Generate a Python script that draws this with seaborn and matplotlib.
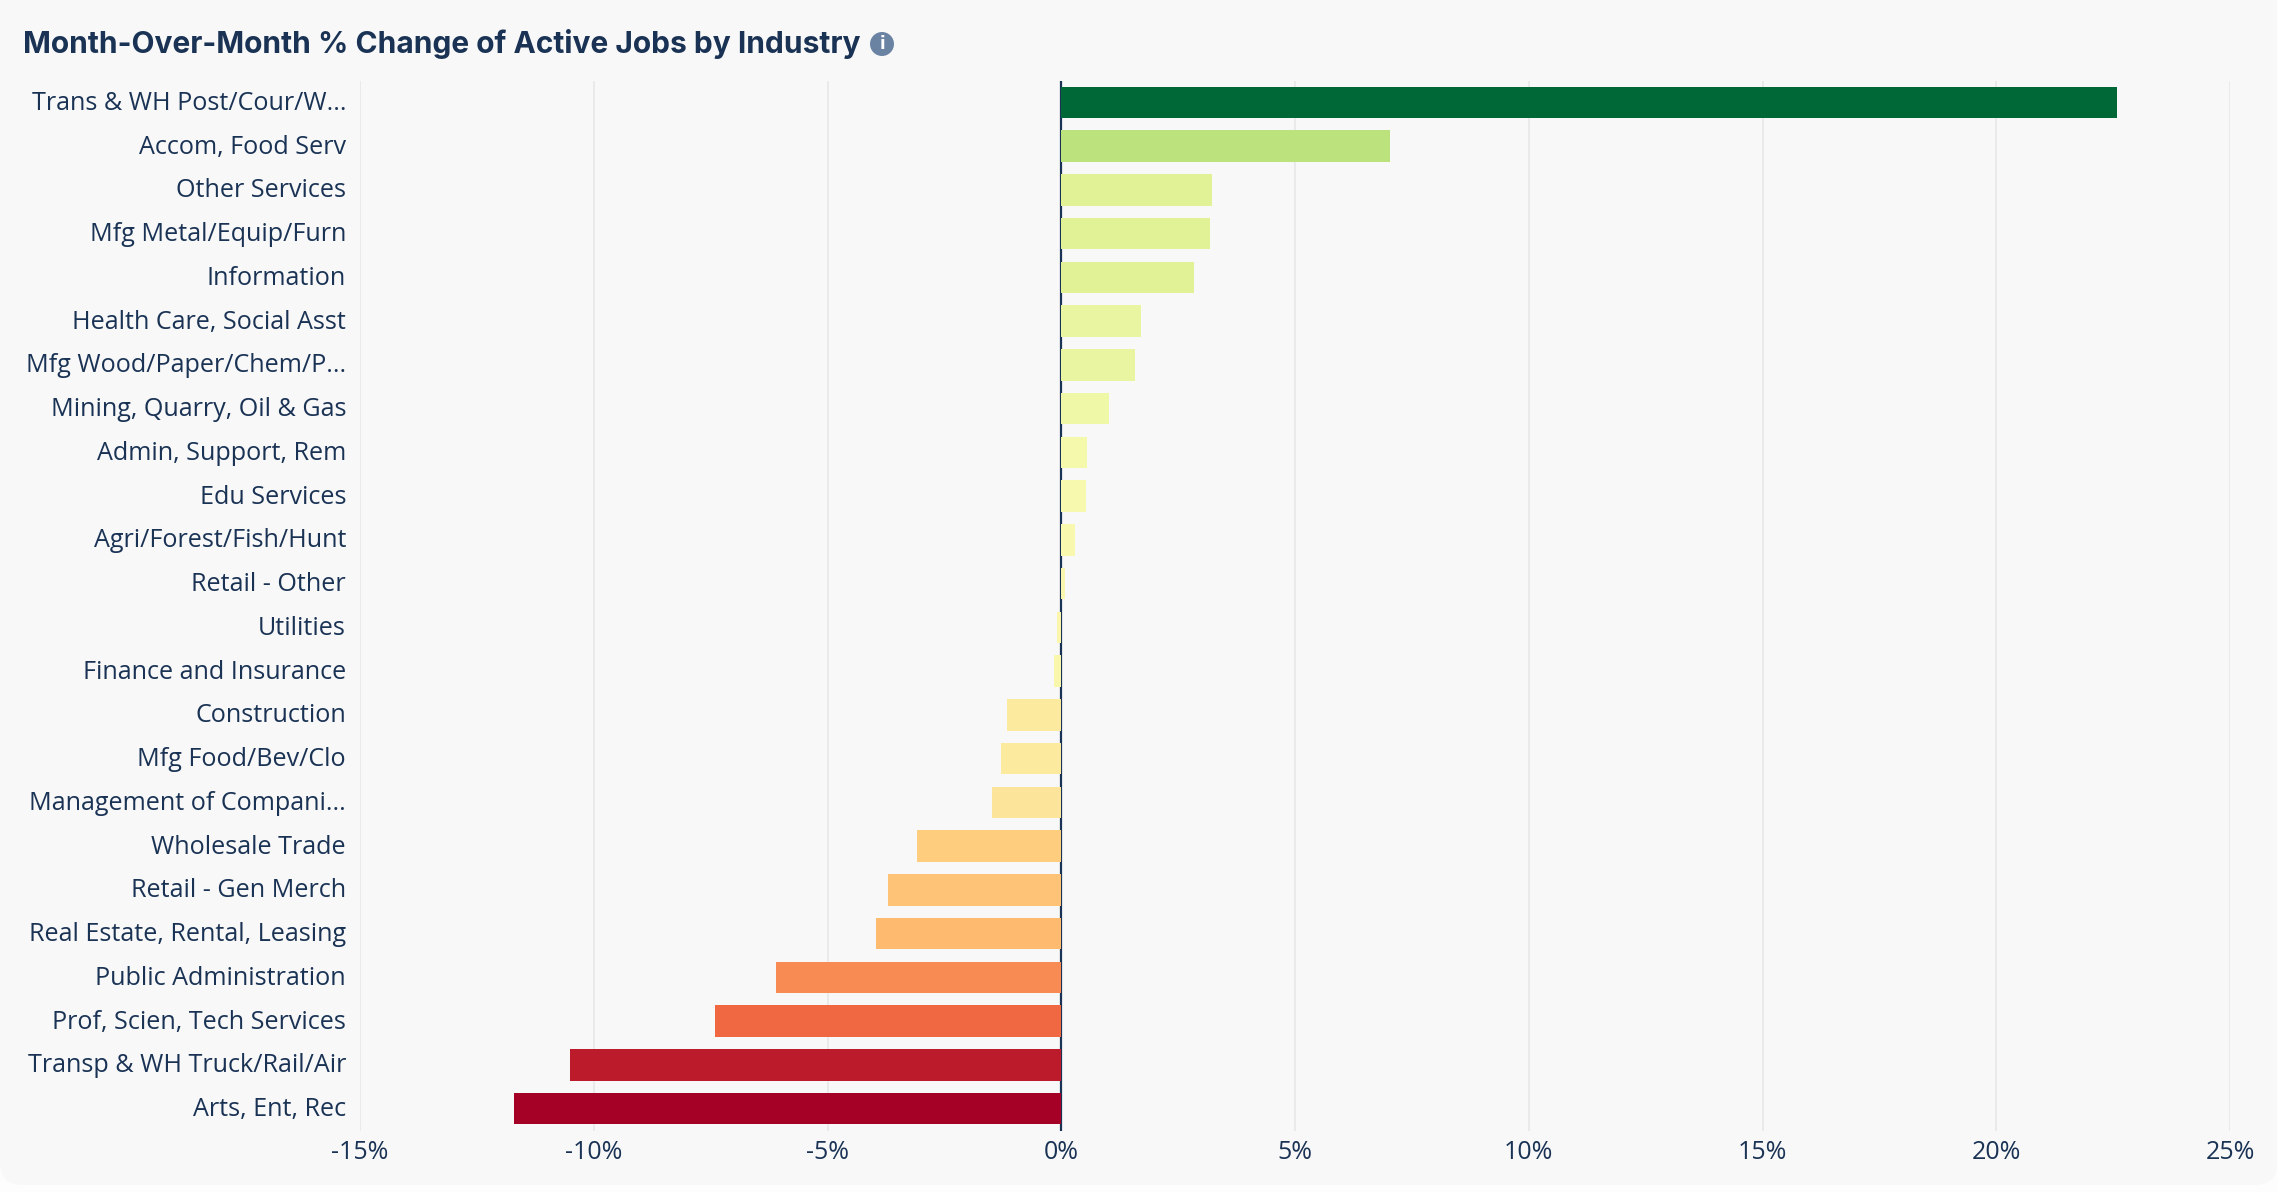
import matplotlib
matplotlib.use("Agg")
import matplotlib.pyplot as plt
from matplotlib.patches import FancyBboxPatch, Circle
from matplotlib.transforms import ScaledTranslation
import pandas as pd
import seaborn as sns

# Values
industries = [
    "Trans & WH Post/Cour/W...", "Accom, Food Serv", "Other Services",
    "Mfg Metal/Equip/Furn", "Information", "Health Care, Social Asst",
    "Mfg Wood/Paper/Chem/P...", "Mining, Quarry, Oil & Gas", "Admin, Support, Rem",
    "Edu Services", "Agri/Forest/Fish/Hunt", "Retail - Other", "Utilities",
    "Finance and Insurance", "Construction", "Mfg Food/Bev/Clo",
    "Management of Compani...", "Wholesale Trade", "Retail - Gen Merch",
    "Real Estate, Rental, Leasing", "Public Administration",
    "Prof, Scien, Tech Services", "Transp & WH Truck/Rail/Air", "Arts, Ent, Rec",
]
pct_change = [
    22.59, 7.04, 3.23, 3.19, 2.84, 1.71, 1.57, 1.03, 0.56, 0.52, 0.29, 0.07,
    -0.09, -0.16, -1.17, -1.28, -1.48, -3.08, -3.70, -3.97, -6.10, -7.40,
    -10.50, -11.70,
]
bar_colors = [
    "#006837", "#bce27d", "#e0f196", "#e0f196", "#e0f196", "#e9f5a0", "#e9f5a0",
    "#eff8a7", "#f5f9ac", "#f7f9ae", "#f8f8ae", "#f9f7ae", "#fbf6ac", "#f9f7ab",
    "#fcea9e", "#fcea9e", "#fce59a", "#fecd7d", "#fec376", "#feba6f", "#f78b53",
    "#f06841", "#bc1b2c", "#a50026",
]
tick_values = [-15, -10, -5, 0, 5, 10, 15, 20, 25]
tick_labels = ["-15%", "-10%", "-5%", "0%", "5%", "10%", "15%", "20%", "25%"]

W, H = 2278, 1192
NAVY = "#1a3355"
PANEL = "#f8f8f8"

sns.set_theme(style="white")
plt.rcParams["font.family"] = ["Open Sans", "DejaVu Sans"]

df = pd.DataFrame({"industry": industries, "change": pct_change})

fig = plt.figure(figsize=(W / 100, H / 100), dpi=100, facecolor="#fdfdfd")

# rounded card behind the chart
fig.patches.append(FancyBboxPatch(
    (0, 7), W - 1, H - 7 + 20, boxstyle="round,pad=0,rounding_size=22",
    transform=None, facecolor=PANEL, edgecolor="none", figure=fig, zorder=-5))

ax = fig.add_axes([360 / W, 1 - 1130.5 / H, (2230 - 360) / W, (1130.5 - 80.5) / H])
ax.set_facecolor("none")
ax.set_zorder(2)

sns.barplot(data=df, y="industry", x="change", hue="industry",
            palette=bar_colors, legend=False, width=0.725, saturation=1,
            linewidth=0, ax=ax, zorder=3)

ax.set_xlim(-15, 25)
ax.set_ylim(len(industries) - 0.5, -0.5)
ax.set_xticks(tick_values)
ax.set_xticklabels(tick_labels)
ax.set_xlabel("")
ax.set_ylabel("")
ax.grid(axis="x", color="#e6e6e6", linewidth=1.1, zorder=0)
ax.grid(axis="y", visible=False)
ax.set_axisbelow(True)
ax.axvline(0, color=NAVY, linewidth=1.6, zorder=2)
sns.despine(ax=ax, left=True, bottom=True, top=True, right=True)
ax.tick_params(axis="y", length=0, pad=10, labelsize=18.1, labelcolor=NAVY)
ax.tick_params(axis="x", length=0, pad=7, labelsize=18, labelcolor=NAVY)

# nudge the category labels up a little
nudge = ScaledTranslation(0, 1.5 / 72, fig.dpi_scale_trans)
for label in ax.get_yticklabels():
    label.set_transform(label.get_transform() + nudge)

# title and info icon
fig.text(23 / W, 1 - 44 / H, "Month-Over-Month % Change of Active Jobs by Industry",
         family="Inter", fontweight="bold", fontsize=21.55, color=NAVY,
         ha="left", va="center", zorder=3)
fig.patches.append(Circle((882, H - 44), 12, transform=None,
                          facecolor="#6b83a3", edgecolor="none", figure=fig, zorder=1))
fig.text(882 / W, 1 - 44 / H, "i", family="DejaVu Sans", fontweight="bold",
         fontsize=12, color="white", ha="center", va="center", zorder=3)

fig.savefig("out.png", dpi=100, facecolor=fig.get_facecolor())
